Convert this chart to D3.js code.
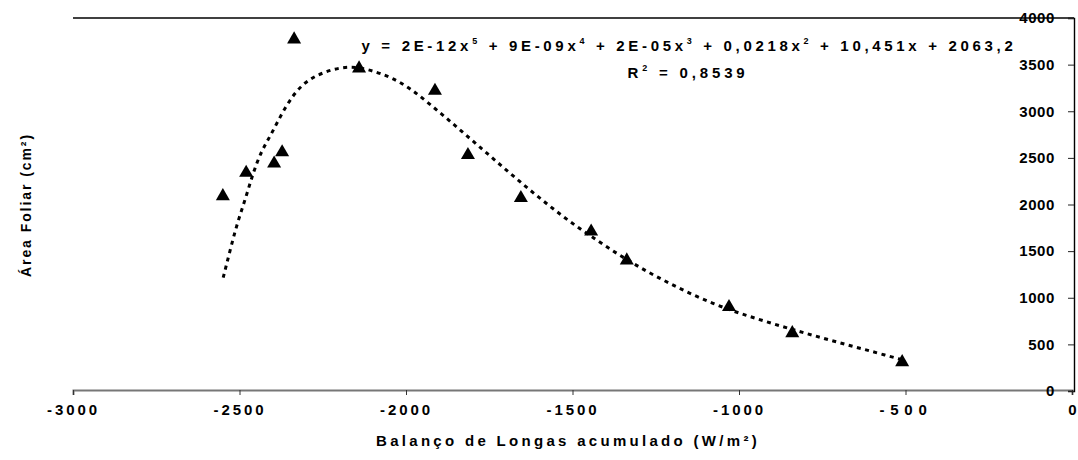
<!DOCTYPE html>
<html>
<head>
<meta charset="utf-8">
<script src="https://cdn.jsdelivr.net/npm/d3@7"></script>
<style>
  html, body { margin: 0; padding: 0; background: #fff; }
  svg { display: block; }
  text { font-family: "Liberation Sans", Arial, sans-serif; font-weight: bold; fill: #000; }
</style>
</head>
<body>
<svg id="chart" width="1078" height="460"></svg>
<script>
// ---- data ----
const balanco = [-2550, -2480, -2396, -2372, -2336, -2141, -1913, -1814, -1655, -1444, -1337, -1030, -840, -510];
const areaFoliar = [2090, 2340, 2440, 2560, 3770, 3460, 3220, 2530, 2070, 1710, 1400, 900, 620, 310];
// polynomial trendline (order 5)
const trendX = [-2549, -2528, -2507, -2481, -2459, -2433, -2408, -2363, -2313, -2248, -2168, -2088, -2028, -1978, -1928, -1878, -1828, -1778, -1728, -1678, -1628, -1578, -1528, -1478, -1428, -1378, -1328, -1278, -1228, -1178, -1128, -1078, -1028, -978, -928, -878, -828, -778, -728, -678, -628, -578, -510];
const trendY = [1215, 1512, 1798, 2073, 2341, 2584, 2727, 3049, 3300, 3424, 3496, 3424, 3335, 3220, 3075, 2925, 2770, 2615, 2460, 2305, 2155, 2010, 1870, 1740, 1620, 1500, 1390, 1285, 1190, 1100, 1015, 940, 870, 810, 755, 700, 648, 597, 547, 498, 450, 402, 335];
const xTicks = [-3000, -2500, -2000, -1500, -1000, -500, 0];
const yTicks = [0, 500, 1000, 1500, 2000, 2500, 3000, 3500, 4000];
const xTitle = "Balanço de Longas acumulado (W/m²)";
const yTitle = "Área Foliar (cm²)";
const eqParts = [["y = 2E-12x", "5"], [" + 9E-09x", "4"], [" + 2E-05x", "3"], [" + 0,0218x", "2"], [" + 10,451x + 2063,2", null]];
const r2Parts = [["R", "2"], [" = 0,8539", null]];

const svg = d3.select("#chart");
const W = 1078, H = 460;
svg.append("rect").attr("width", W).attr("height", H).attr("fill", "#fff");

const x = d3.scaleLinear().domain([-3000, 0]).range([73, 1072]);
const y = d3.scaleLinear().domain([0, 4000]).range([391, 18]);

function fitWidth(sel, target) {
  const node = sel.node();
  sel.style("letter-spacing", "0px");
  const w0 = node.getBBox().width;
  sel.style("letter-spacing", "1px");
  const w1 = node.getBBox().width;
  const s = (target - w0) / (w1 - w0);
  sel.style("letter-spacing", s + "px");
}

// top frame line
svg.append("line")
  .attr("x1", x(-3000)).attr("x2", x(0) + 2)
  .attr("y1", y(4000)).attr("y2", y(4000))
  .attr("stroke", "#000").attr("stroke-width", 1.6);

// bottom axis
const gx = svg.append("g").attr("transform", `translate(0,${y(0) - 1})`)
  .call(d3.axisBottom(x).tickValues(xTicks).tickSize(5).tickPadding(9).tickFormat(d3.format("d")));
gx.select(".domain").attr("stroke", "#777").attr("stroke-width", 2);
gx.selectAll(".tick line").attr("stroke", "#333").attr("stroke-width", 1);
gx.selectAll(".tick text").attr("font-size", 15).attr("font-family", "Liberation Sans, Arial, sans-serif")
  .attr("font-weight", "bold").attr("fill", "#000")
  .text(d => String(d))
  .each(function(d) { if (d !== 0) fitWidth(d3.select(this), 53); });

// right axis (y ticks pointing left, labels inside)
const gy = svg.append("g").attr("transform", `translate(${x(0) + 2},0)`)
  .call(d3.axisLeft(y).tickValues(yTicks).tickSize(6).tickPadding(13).tickFormat(d3.format("d")));
gy.select(".domain").attr("stroke", "#000").attr("stroke-width", 1.4);
gy.selectAll(".tick line").attr("stroke", "#222");
gy.selectAll(".tick text").attr("font-size", 15).attr("font-family", "Liberation Sans, Arial, sans-serif")
  .attr("font-weight", "bold").attr("fill", "#000").style("letter-spacing", "0.6px");

// trendline
svg.append("path")
  .datum(trendX.map((d, i) => [d, trendY[i]]))
  .attr("fill", "none").attr("stroke", "#000").attr("stroke-width", 3)
  .attr("stroke-dasharray", "4,4.5")
  .attr("d", d3.line().x(d => x(d[0])).y(d => y(d[1])).curve(d3.curveBasis));

// markers
svg.append("g").selectAll("path").data(balanco).join("path")
  .attr("transform", (d, i) => `translate(${x(d)},${y(areaFoliar[i])})`)
  .attr("d", d3.symbol().type(d3.symbolTriangle).size(85))
  .attr("fill", "#000");

// equation label
function richText(parts, xc, yb, target) {
  const t = svg.append("text").attr("x", xc).attr("y", yb).attr("font-size", 15).attr("text-anchor", "middle");
  let raised = false;
  parts.forEach(([main, sup]) => {
    const m = t.append("tspan").text(main);
    if (raised) { m.attr("dy", 7); raised = false; }
    if (sup) {
      t.append("tspan").attr("font-size", 9).attr("dy", -7).text(sup);
      raised = true;
    }
  });
  fitWidth(t, target);
  return t;
}
richText(eqParts, 689, 51, 655);
richText(r2Parts, 688, 78, 121);

// axis titles
const xt = svg.append("text").attr("x", 568).attr("y", 446).attr("text-anchor", "middle")
  .attr("font-size", 15).text(xTitle);
fitWidth(xt, 384);
const yt = svg.append("text").attr("transform", "translate(31,205) rotate(-90)")
  .attr("text-anchor", "middle").attr("font-size", 14).text(yTitle);
fitWidth(yt, 144);
</script>
</body>
</html>
